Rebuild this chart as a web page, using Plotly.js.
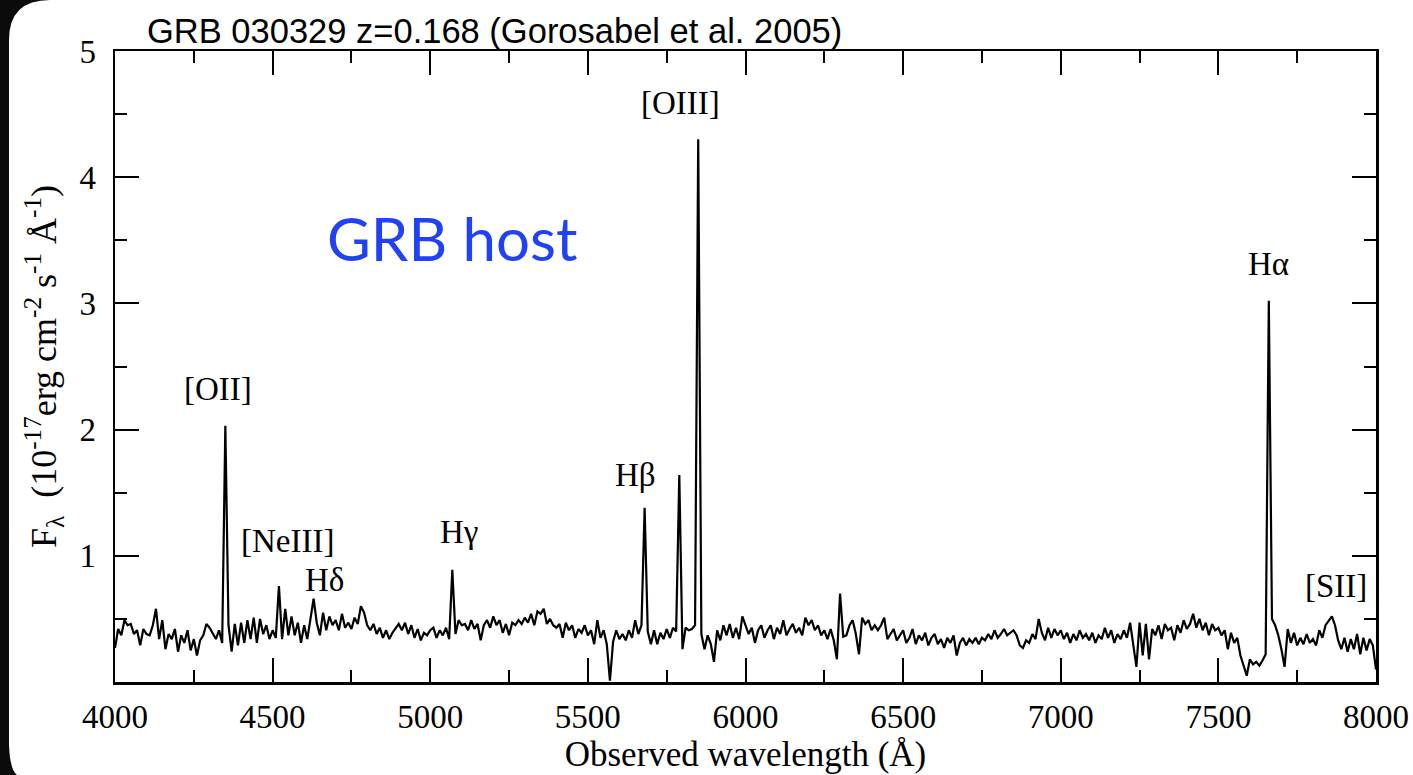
<!DOCTYPE html>
<html>
<head>
<meta charset="utf-8">
<script src="https://cdn.plot.ly/plotly-3.0.1.min.js"></script>
<style>
  html, body { margin: 0; padding: 0; background: #ffffff; }
  #chart { width: 1413px; height: 775px; }
</style>
</head>
<body>
<div id="chart"></div>
<script>
// Observed spectrum of the GRB 030329 host (flux in 1e-17 erg/cm2/s/A), sampled every 10 A from 4000 A
const gridStart = 4000;
const gridStep = 10;
const flux = [
  0.27,0.42,0.37,0.49,0.45,0.46,0.38,0.41,0.29,0.42,
  0.38,0.37,0.45,0.58,0.34,0.49,0.26,0.38,0.34,0.42,
  0.24,0.37,0.31,0.41,0.25,0.34,0.21,0.33,0.37,0.46,
  0.43,0.38,0.34,0.41,0.31,2.03,0.45,0.24,0.46,0.29,
  0.47,0.31,0.49,0.34,0.51,0.31,0.50,0.38,0.45,0.34,
  0.41,0.35,0.76,0.34,0.58,0.37,0.52,0.37,0.47,0.31,
  0.45,0.34,0.51,0.66,0.47,0.37,0.55,0.41,0.52,0.45,
  0.49,0.41,0.54,0.43,0.47,0.42,0.51,0.46,0.60,0.55,
  0.45,0.41,0.46,0.38,0.43,0.35,0.41,0.34,0.39,0.43,
  0.46,0.41,0.47,0.38,0.45,0.35,0.42,0.33,0.39,0.37,
  0.41,0.43,0.35,0.41,0.37,0.43,0.34,0.89,0.38,0.49,
  0.45,0.46,0.41,0.49,0.42,0.46,0.33,0.45,0.49,0.43,
  0.52,0.45,0.49,0.39,0.46,0.37,0.47,0.45,0.49,0.46,
  0.51,0.47,0.54,0.45,0.56,0.54,0.58,0.46,0.50,0.45,
  0.43,0.46,0.35,0.47,0.41,0.45,0.35,0.42,0.39,0.45,
  0.37,0.41,0.30,0.49,0.35,0.41,0.30,0.01,0.32,0.41,
  0.34,0.38,0.33,0.41,0.35,0.49,0.38,0.45,1.38,0.40,
  0.30,0.41,0.30,0.39,0.34,0.42,0.35,0.43,0.40,1.64,
  0.26,0.43,0.41,0.42,0.45,4.30,0.38,0.26,0.37,0.30,
  0.16,0.41,0.33,0.45,0.37,0.46,0.35,0.43,0.34,0.52,
  0.45,0.38,0.43,0.31,0.41,0.45,0.35,0.41,0.45,0.34,
  0.43,0.38,0.49,0.37,0.42,0.46,0.39,0.43,0.37,0.51,
  0.45,0.49,0.41,0.45,0.37,0.41,0.34,0.42,0.33,0.18,
  0.70,0.36,0.37,0.45,0.49,0.38,0.22,0.51,0.46,0.49,
  0.41,0.45,0.41,0.45,0.51,0.34,0.38,0.42,0.33,0.37,
  0.41,0.31,0.35,0.42,0.30,0.37,0.33,0.39,0.29,0.35,
  0.38,0.30,0.34,0.27,0.35,0.31,0.37,0.21,0.31,0.35,
  0.29,0.34,0.31,0.35,0.30,0.35,0.33,0.38,0.34,0.41,
  0.35,0.38,0.42,0.37,0.39,0.41,0.37,0.29,0.27,0.33,
  0.31,0.38,0.34,0.50,0.39,0.33,0.43,0.35,0.42,0.37,
  0.41,0.34,0.39,0.31,0.38,0.33,0.41,0.35,0.38,0.33,
  0.39,0.31,0.37,0.34,0.43,0.35,0.41,0.31,0.38,0.34,
  0.41,0.35,0.47,0.29,0.12,0.47,0.21,0.46,0.18,0.42,
  0.37,0.45,0.34,0.46,0.41,0.43,0.33,0.45,0.39,0.49,
  0.42,0.46,0.54,0.43,0.50,0.41,0.47,0.37,0.46,0.41,
  0.43,0.37,0.41,0.26,0.39,0.31,0.35,0.21,0.13,0.05,
  0.18,0.14,0.16,0.13,0.17,0.22,3.02,0.50,0.45,0.37,
  0.26,0.12,0.42,0.31,0.39,0.29,0.35,0.30,0.38,0.31,
  0.34,0.29,0.41,0.35,0.45,0.49,0.52,0.45,0.33,0.26,
  0.35,0.24,0.34,0.26,0.38,0.22,0.35,0.25,0.34,0.29,
  0.10
];
const wavelength = flux.map((_, i) => gridStart + gridStep * i);

// Emission-line labels
const lineLabels = ["[OII]", "[NeIII]", "H&#948;", "H&#947;", "H&#946;", "[OIII]", "H&#945;", "[SII]"];
const labelWave  = [4327, 4546, 4663, 5091, 5652, 5795, 7660, 7873];
const labelFlux  = [2.32, 1.12, 0.81, 1.19, 1.64, 4.59, 3.31, 0.76];

const xTicks = [4000, 4500, 5000, 5500, 6000, 6500, 7000, 7500, 8000];
const yTicks = [1, 2, 3, 4, 5];

const W = 1413, H = 775;
const M = { l: 115, r: 37, t: 51, b: 93 };
const pw = W - M.l - M.r, ph = H - M.t - M.b;
function px(x) { return ((x - M.l) / pw).toFixed(5); }
function py(y) { return ((H - M.b - y) / ph).toFixed(5); }
const framePath =
  "M " + px(0) + "," + py(0) +
  " L " + px(50) + "," + py(0) +
  " Q " + px(9) + "," + py(0) + " " + px(9) + "," + py(40) +
  " L " + px(9) + "," + py(745) +
  " Q " + px(10) + "," + py(770) + " " + px(17) + "," + py(775) +
  " L " + px(0) + "," + py(775) + " Z";

const serif = "Liberation Serif, Times New Roman, serif";

const annotations = lineLabels.map((t, i) => ({
  x: labelWave[i], y: labelFlux[i], xref: "x", yref: "y",
  text: t, showarrow: false, xanchor: "center", yanchor: "middle",
  font: { family: serif, size: 33, color: "#000" }
}));
annotations.push({
  x: 5072, y: 3.52, xref: "x", yref: "y", text: "GRB host", showarrow: false,
  xanchor: "center", yanchor: "middle",
  font: { family: "Lato, Open Sans, sans-serif", size: 60, color: "#2141f5" }
});

const trace = {
  x: wavelength, y: flux, type: "scatter", mode: "lines",
  line: { color: "#000", width: 2.2 }, hoverinfo: "skip"
};

const axisCommon = {
  showline: true, linecolor: "#000", linewidth: 2.5, mirror: "allticks",
  ticks: "inside", ticklen: 24, tickwidth: 2, tickcolor: "#000",
  showgrid: false, zeroline: false,
  tickfont: { family: serif, size: 33, color: "#000" }
};

const layout = {
  width: W, height: H,
  margin: M,
  paper_bgcolor: "#ffffff", plot_bgcolor: "#ffffff",
  showlegend: false,
  title: {
    text: "GRB 030329 z=0.168 (Gorosabel et al. 2005)",
    font: { family: "Liberation Sans, Arial, sans-serif", size: 34.5, color: "#000" },
    xref: "paper", x: (147 - M.l) / pw, xanchor: "left",
    yref: "container", y: 1 - 31 / H, yanchor: "middle"
  },
  xaxis: Object.assign({}, axisCommon, {
    range: [4000, 8000], tickvals: xTicks, ticktext: xTicks.map(String),
    minor: { dtick: 250, ticklen: 12, tickwidth: 2, tickcolor: "#000", ticks: "inside" },
    ticklabelstandoff: 4,
    title: { text: "Observed wavelength (&#197;)", font: { family: serif, size: 35, color: "#000" }, standoff: 6 }
  }),
  yaxis: Object.assign({}, axisCommon, {
    range: [0, 5], tickvals: yTicks, ticktext: yTicks.map(String),
    minor: { dtick: 0.5, ticklen: 12, tickwidth: 2, tickcolor: "#000", ticks: "inside" },
    ticklabelstandoff: 10,
    title: {
      text: "F<sub>&#955;</sub>&nbsp;&nbsp;(10<sup>-17</sup>erg&nbsp;cm<sup>-2</sup>&nbsp;s<sup>-1</sup>&nbsp;&#197;<sup>-1</sup>)",
      font: { family: serif, size: 36, color: "#000" }, standoff: 12
    }
  }),
  annotations: annotations,
  shapes: [{
    type: "path", xref: "paper", yref: "paper", path: framePath,
    fillcolor: "#0b0b0b", line: { width: 0 }, layer: "above"
  }]
};

Plotly.newPlot("chart", [trace], layout, { staticPlot: true, displayModeBar: false });
</script>
</body>
</html>
